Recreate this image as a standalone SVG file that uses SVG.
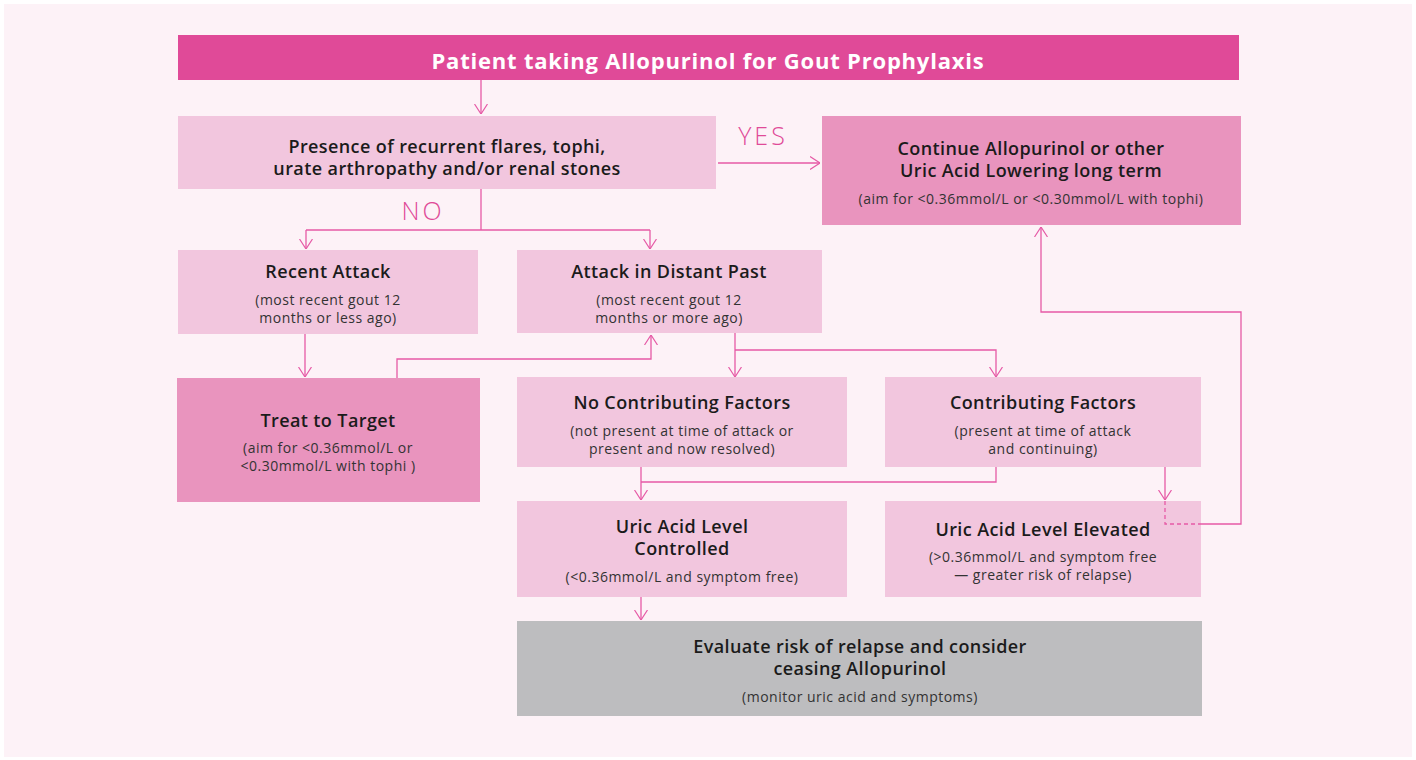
<svg xmlns="http://www.w3.org/2000/svg" width="1416" height="760" viewBox="0 0 1416 760">
<defs>
<marker id="arr" viewBox="0 0 10 14" refX="10" refY="7" markerWidth="10" markerHeight="14" markerUnits="userSpaceOnUse" orient="auto">
<path d="M0,0.5 L10,7 L0,13.5" fill="none" stroke="#e65aa6" stroke-width="1.2"/>
</marker>
<style>
.bg{fill:#fdf2f7}
.light{fill:#f2c6de}
.mid{fill:#e994be}
.gray{fill:#bdbdbf}
.hdr{fill:#e04a98}
text{font-family:"Open Sans","Liberation Sans",sans-serif;text-anchor:middle}
.t{font-size:18px;font-weight:600;fill:#1b1b1b;letter-spacing:0.4px}
.s{font-size:14px;fill:#333;letter-spacing:0.5px}
.h{font-size:22px;font-weight:700;fill:#ffffff;letter-spacing:0.8px}
.lbl{font-size:25px;font-weight:300;fill:#e04a98;letter-spacing:3px}
.c{fill:none;stroke:#e65aa6;stroke-width:1.3}
.d{fill:none;stroke:#e65aa6;stroke-width:1.3;stroke-dasharray:4 3}
</style>
</defs>
<rect width="1416" height="760" fill="#ffffff"/>
<rect class="bg" x="4" y="4" width="1408" height="753"/>

<g id="n-title">
<rect class="hdr" x="178" y="35" width="1061" height="45"/>
<text class="h" x="708" y="69">Patient taking Allopurinol for Gout Prophylaxis</text>
</g>

<g id="n-presence">
<rect class="light" x="178" y="116" width="538" height="73"/>
<text class="t" x="447" y="153">Presence of recurrent flares, tophi,</text>
<text class="t" x="447" y="175">urate arthropathy and/or renal stones</text>
</g>

<g id="l-yes"><text class="lbl" x="763" y="145">YES</text></g>
<g id="l-no"><text class="lbl" x="423" y="220">NO</text></g>

<g id="n-continue">
<rect class="mid" x="822" y="116" width="419" height="109"/>
<text class="t" x="1031" y="155">Continue Allopurinol or other</text>
<text class="t" x="1031" y="177">Uric Acid Lowering long term</text>
<text class="s" x="1031" y="204">(aim for &lt;0.36mmol/L or &lt;0.30mmol/L with tophi)</text>
</g>

<g id="n-recent">
<rect class="light" x="178" y="250" width="300" height="84"/>
<text class="t" x="328" y="278">Recent Attack</text>
<text class="s" x="328" y="305">(most recent gout 12</text>
<text class="s" x="328" y="323">months or less ago)</text>
</g>

<g id="n-distant">
<rect class="light" x="517" y="250" width="305" height="83"/>
<text class="t" x="669" y="278">Attack in Distant Past</text>
<text class="s" x="669" y="305">(most recent gout 12</text>
<text class="s" x="669" y="323">months or more ago)</text>
</g>

<g id="n-treat">
<rect class="mid" x="177" y="378" width="303" height="124"/>
<text class="t" x="328" y="427">Treat to Target</text>
<text class="s" x="328" y="453">(aim for &lt;0.36mmol/L or</text>
<text class="s" x="328" y="471">&lt;0.30mmol/L with tophi )</text>
</g>

<g id="n-nocontrib">
<rect class="light" x="517" y="377" width="330" height="90"/>
<text class="t" x="682" y="409">No Contributing Factors</text>
<text class="s" x="682" y="436">(not present at time of attack or</text>
<text class="s" x="682" y="454">present and now resolved)</text>
</g>

<g id="n-contrib">
<rect class="light" x="885" y="377" width="316" height="90"/>
<text class="t" x="1043" y="409">Contributing Factors</text>
<text class="s" x="1043" y="436">(present at time of attack</text>
<text class="s" x="1043" y="454">and continuing)</text>
</g>

<g id="n-controlled">
<rect class="light" x="517" y="501" width="330" height="96"/>
<text class="t" x="682" y="533">Uric Acid Level</text>
<text class="t" x="682" y="555">Controlled</text>
<text class="s" x="682" y="582">(&lt;0.36mmol/L and symptom free)</text>
</g>

<g id="n-elevated">
<rect class="light" x="885" y="501" width="316" height="96"/>
<text class="t" x="1043" y="536">Uric Acid Level Elevated</text>
<text class="s" x="1043" y="562">(&gt;0.36mmol/L and symptom free</text>
<text class="s" x="1043" y="580">— greater risk of relapse)</text>
</g>

<g id="n-evaluate">
<rect class="gray" x="517" y="621" width="685" height="95"/>
<text class="t" x="860" y="653">Evaluate risk of relapse and consider</text>
<text class="t" x="860" y="675">ceasing Allopurinol</text>
<text class="s" x="860" y="702">(monitor uric acid and symptoms)</text>
</g>

<g id="connectors">
<path class="c" d="M481,80 V114" marker-end="url(#arr)"/>
<path class="c" d="M718,163 H820" marker-end="url(#arr)"/>
<path class="c" d="M481,189 V230"/>
<path class="c" d="M306,230 H650"/>
<path class="c" d="M306,230 V249" marker-end="url(#arr)"/>
<path class="c" d="M650,230 V249" marker-end="url(#arr)"/>
<path class="c" d="M305,334 V377" marker-end="url(#arr)"/>
<path class="c" d="M397,378 V359 H651 V335" marker-end="url(#arr)"/>
<path class="c" d="M735,333 V377" marker-end="url(#arr)"/>
<path class="c" d="M735,350 H996 V377" marker-end="url(#arr)"/>
<path class="c" d="M641,467 V500" marker-end="url(#arr)"/>
<path class="c" d="M996,467 V482 H641"/>
<path class="c" d="M1165,467 V500" marker-end="url(#arr)"/>
<path class="d" d="M1165,501 V524 H1201"/>
<path class="c" d="M1201,524 H1241 V312 H1041 V227" marker-end="url(#arr)"/>
<path class="c" d="M641,597 V620" marker-end="url(#arr)"/>
</g>
</svg>
